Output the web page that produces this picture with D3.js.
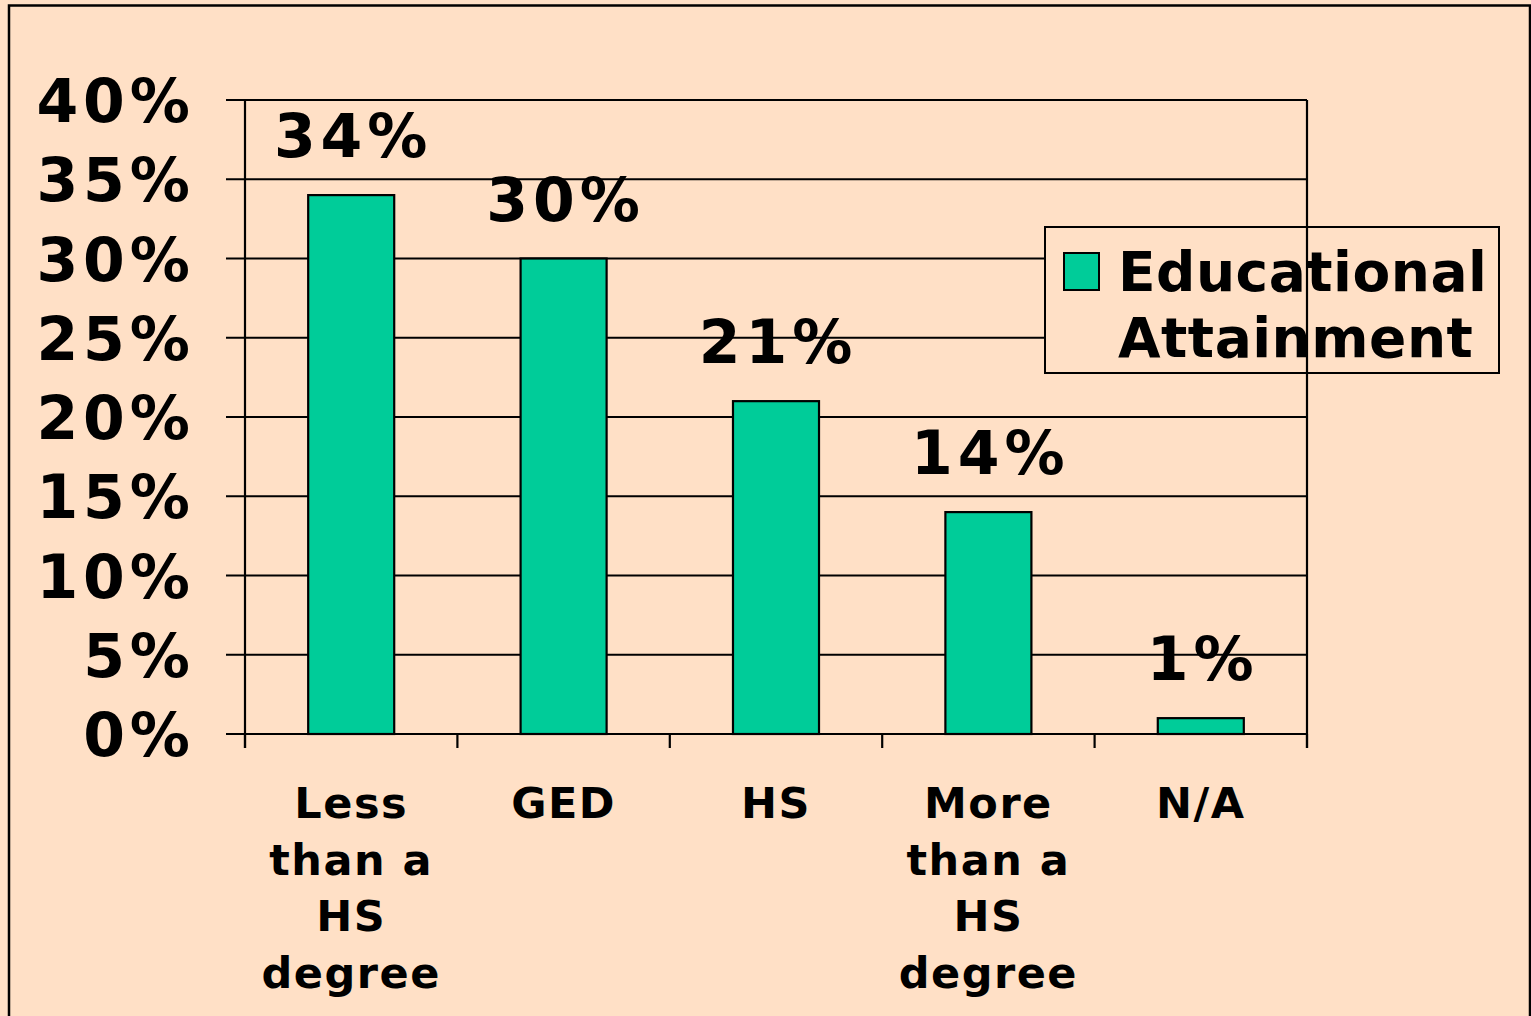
<!DOCTYPE html>
<html lang="en">
    <head>
        <meta charset="utf-8">
        <title>Educational Attainment</title>
        <script type="text/javascript" src="https://cdn.jsdelivr.net/npm/d3@7"></script>
        <style type="text/css">
          body { margin: 0; background: #FFE0C6; }
          svg text {
              font-family: "DejaVu Sans", Verdana, sans-serif;
              font-weight: bold;
              fill: black;
          }
        </style>
    </head>
    <body>
        <script type="text/javascript">
            //Data
            var categories = [ "Less than a HS degree", "GED", "HS", "More than a HS degree", "N/A" ];
            var categoryLines = [ ["Less", "than a", "HS", "degree"], ["GED"], ["HS"],
                                  ["More", "than a", "HS", "degree"], ["N/A"] ];
            var values = [ 0.34, 0.30, 0.21, 0.14, 0.01 ];
            var yTicks = [ 0, 0.05, 0.10, 0.15, 0.20, 0.25, 0.30, 0.35, 0.40 ];
            var seriesName = [ "Educational", "Attainment" ];

            var w = 1531;
            var h = 1016;
            //note: "top" is reserved on window, so use plot* names
            var plotLeft = 245, plotRight = 1307, plotTop = 100, plotBottom = 734;

            var svg = d3.select("body")
                        .append("svg")
                        .attr("width", w)
                        .attr("height", h);

            //Background and outer frame
            svg.append("rect")
               .attr("x", 0).attr("y", 0)
               .attr("width", w).attr("height", h)
               .attr("fill", "#FFE0C6");
            svg.append("rect")
               .attr("x", 9).attr("y", 5.5)
               .attr("width", 1521).attr("height", 1030)
               .attr("fill", "none")
               .attr("stroke", "black")
               .attr("stroke-width", 2.5);

            //Scales
            var xScale = d3.scaleBand()
                           .domain(categories)
                           .range([plotLeft, plotRight])
                           .paddingInner(0.595)
                           .paddingOuter(0.2975);
            var yScale = d3.scaleLinear()
                           .domain([0, 0.4])
                           .range([plotBottom, plotTop]);

            //Gridlines (with small outward ticks)
            svg.append("g")
               .selectAll("line")
               .data(yTicks)
               .enter()
               .append("line")
               .attr("x1", plotLeft - 19)
               .attr("x2", plotRight)
               .attr("y1", d => yScale(d))
               .attr("y2", d => yScale(d))
               .attr("stroke", "black")
               .attr("stroke-width", 2.2);

            //Y axis labels
            var yAxis = d3.axisLeft(yScale)
                          .tickValues(yTicks)
                          .tickFormat(d3.format(".0%"))
                          .tickSize(0)
                          .tickPadding(50);
            var yg = svg.append("g")
               .attr("transform", "translate(" + plotLeft + ",0)")
               .call(yAxis);
            yg.select(".domain").remove();
            yg.selectAll("text")
              .style("font-size", "60px")
              .style("letter-spacing", "5px")
              .attr("dy", "0.36em");

            //Bars
            svg.selectAll("rect.bar")
               .data(values)
               .enter()
               .append("rect")
               .attr("class", "bar")
               .attr("x", (d, i) => xScale(categories[i]))
               .attr("y", d => yScale(d))
               .attr("width", xScale.bandwidth())
               .attr("height", d => plotBottom - yScale(d))
               .attr("fill", "#00CC99")
               .attr("stroke", "black")
               .attr("stroke-width", 2.2);

            //Value labels
            svg.selectAll("text.val")
               .data(values)
               .enter()
               .append("text")
               .attr("class", "val")
               .attr("text-anchor", "middle")
               .attr("x", (d, i) => xScale(categories[i]) + xScale.bandwidth() / 2 + 2)
               .attr("y", d => yScale(d) - 38)
               .style("font-size", "60px")
               .style("letter-spacing", "5px")
               .text(d3.format(".0%"));

            //Legend box
            var lg = svg.append("g");
            lg.append("rect")
              .attr("x", 1045).attr("y", 227)
              .attr("width", 454).attr("height", 146)
              .attr("fill", "#FFE0C6")
              .attr("stroke", "black")
              .attr("stroke-width", 2);

            //Y axis line, right border of plot and category ticks
            svg.append("line")
               .attr("x1", plotLeft).attr("x2", plotLeft)
               .attr("y1", plotTop).attr("y2", plotBottom + 14)
               .attr("stroke", "black").attr("stroke-width", 2.2);
            svg.append("line")
               .attr("x1", plotRight).attr("x2", plotRight)
               .attr("y1", plotTop).attr("y2", plotBottom + 14)
               .attr("stroke", "black").attr("stroke-width", 2.2);
            svg.append("line")
               .attr("x1", plotLeft).attr("x2", plotRight)
               .attr("y1", plotBottom).attr("y2", plotBottom)
               .attr("stroke", "black").attr("stroke-width", 2.2);
            svg.append("g")
               .selectAll("line")
               .data(d3.range(categories.length + 1))
               .enter()
               .append("line")
               .attr("x1", i => xScale.range()[0] + i * xScale.step())
               .attr("x2", i => xScale.range()[0] + i * xScale.step())
               .attr("y1", plotBottom)
               .attr("y2", plotBottom + 14)
               .attr("stroke", "black").attr("stroke-width", 2.2);

            //Legend swatch and text
            lg.append("rect")
              .attr("x", 1064).attr("y", 253)
              .attr("width", 35).attr("height", 37)
              .attr("fill", "#00CC99")
              .attr("stroke", "black")
              .attr("stroke-width", 2);
            svg.selectAll("text.leg")
               .data(seriesName)
               .enter()
               .append("text")
               .attr("class", "leg")
               .attr("x", 1118)
               .attr("y", (d, i) => 291 + i * 66)
               .style("font-size", "55px")
               .style("letter-spacing", "0.5px")
               .text(d => d);

            //Category labels
            var cats = svg.selectAll("text.cat")
               .data(categoryLines)
               .enter()
               .append("text")
               .attr("class", "cat")
               .attr("text-anchor", "middle")
               .style("font-size", "43px")
               .style("letter-spacing", "1.5px");
            cats.selectAll("tspan")
                .data((d, i) => d.map(s => [s, i]))
                .enter()
                .append("tspan")
                .attr("x", d => xScale(categories[d[1]]) + xScale.bandwidth() / 2)
                .attr("y", (d, j) => 818 + j * 56.5)
                .text(d => d[0]);
        </script>
    </body>
</html>
